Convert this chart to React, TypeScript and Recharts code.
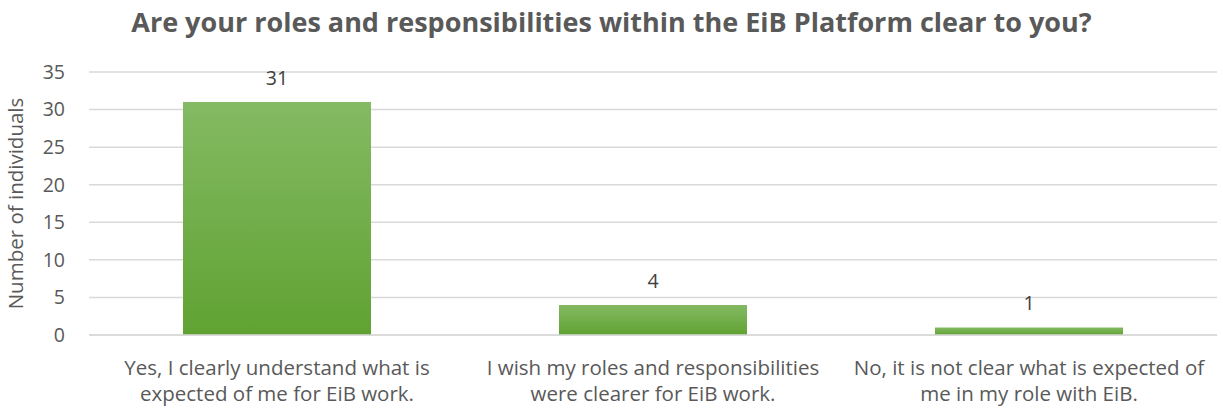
import { BarChart, Bar, XAxis, YAxis, CartesianGrid, LabelList } from "recharts";

// Survey: clarity of roles within the EiB Platform
const categories = ["Yes", "Wish clearer", "No"];
const counts = [31, 4, 1];
const tickLines = [
  ["Yes, I clearly understand what is", "expected of me for EiB work."],
  ["I wish my roles and responsibilities", "were clearer for EiB work."],
  ["No, it is not clear what is expected of", "me in my role with EiB."],
];
const yTicks = [0, 5, 10, 15, 20, 25, 30, 35];

const data = categories.map((c, i) => ({ category: c, count: counts[i] }));

const FONT = "'Open Sans', Lato, sans-serif";
const TEXT = "#595959";

function CategoryTick(props: any) {
  const { x, y, index } = props;
  const lines = tickLines[index] ?? [];
  return (
    <g transform={`translate(${x},${y})`}>
      {lines.map((l, i) => (
        <text
          key={i}
          x={0}
          y={i * 26}
          dy={32}
          textAnchor="middle"
          fill={TEXT}
          fontSize={20.5}
          fontFamily={FONT}
        >
          {l}
        </text>
      ))}
    </g>
  );
}

export default function App() {
  return (
    <div style={{ width: 1223, height: 412, position: "relative", background: "#fff" }}>
      <style>{`body{margin:0}`}</style>
      <div
        style={{
          position: "absolute",
          top: 3,
          width: "100%",
          textAlign: "center",
          fontFamily: FONT,
          fontWeight: 700,
          fontSize: 27,
          color: TEXT,
        }}
      >
        Are your roles and responsibilities within the EiB Platform clear to you?
      </div>
      <BarChart
        width={1223}
        height={412}
        data={data}
        margin={{ top: 72, right: 6, left: 0, bottom: 0 }}
        barCategoryGap="25%"
      >
        <defs>
          <linearGradient id="barFill" x1="0" y1="0" x2="0" y2="1">
            <stop offset="0%" stopColor="#84BA63" />
            <stop offset="100%" stopColor="#60A232" />
          </linearGradient>
        </defs>
        <CartesianGrid vertical={false} stroke="#d9d9d9" strokeWidth={1.5} />
        <XAxis
          dataKey="category"
          axisLine={{ stroke: "#d9d9d9", strokeWidth: 1.5 }}
          tickLine={false}
          tick={<CategoryTick />}
          interval={0}
          height={77}
        />
        <YAxis
          domain={[0, 35]}
          ticks={yTicks}
          width={89}
          axisLine={false}
          tickLine={false}
          tickMargin={18}
          tick={{ fill: TEXT, fontSize: 19.5, fontFamily: FONT }}
          label={{
            value: "Number of individuals",
            angle: -90,
            position: "insideLeft",
            offset: 16,
            style: { fill: TEXT, fontSize: 20.5, fontFamily: FONT, textAnchor: "middle" },
          }}
        />
        <Bar dataKey="count" fill="url(#barFill)" isAnimationActive={false}>
          <LabelList
            dataKey="count"
            position="top"
            offset={17}
            fill="#404040"
            fontSize={19.5}
            fontFamily={FONT}
          />
        </Bar>
      </BarChart>
    </div>
  );
}
